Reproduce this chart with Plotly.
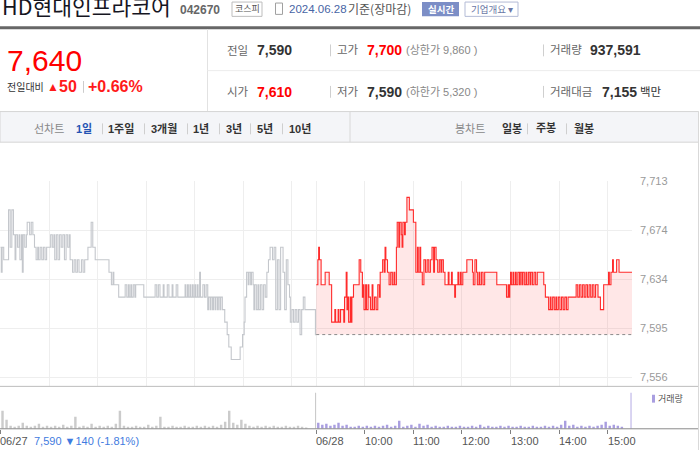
import plotly.graph_objects as go

# ---------------- data ----------------
prev_close = 7590
yticks = [7556, 7595.25, 7634.5, 7673.75, 7713]
ytick_text = ["7,556", "7,595", "7,634", "7,674", "7,713"]

# (minute from 06/27 09:00, price) step points ; 06/28 09:00 = minute 390
pts_0627 = [
    (0, 7660), (1, 7640), (2, 7660), (4, 7650), (10, 7690), (12, 7660), (14, 7690), (16, 7670),
    (18, 7650), (19, 7670), (21, 7660), (23, 7670), (24, 7650), (26, 7670), (27, 7640), (28, 7670),
    (30, 7660), (32, 7670), (33, 7680), (36, 7670), (38, 7680), (40, 7670), (42, 7660), (44, 7650),
    (46, 7660), (47, 7650), (49, 7660), (51, 7650), (53, 7660), (55, 7650), (57, 7660),
    (62, 7670), (64, 7660), (66, 7670), (67, 7650), (69, 7670), (71, 7650), (73, 7670), (75, 7660),
    (77, 7670), (79, 7650), (81, 7670), (83, 7660), (85, 7670), (86, 7650),
    (88, 7650), (89, 7640), (91, 7650), (93, 7640), (95, 7650), (97, 7640), (100, 7650), (102, 7640),
    (104, 7650), (108, 7660), (112, 7680), (114, 7660), (117, 7650),
    (134, 7640), (137, 7630), (139, 7640), (140, 7630),
    (146, 7620), (154, 7630), (156, 7620), (158, 7630), (159, 7620), (161, 7630), (162, 7620),
    (164, 7630), (166, 7620), (167, 7630), (177, 7620),
    (191, 7630), (193, 7620), (195, 7630), (197, 7620), (201, 7630), (202, 7620), (206, 7630),
    (208, 7620), (212, 7630), (213, 7620), (217, 7630), (219, 7620),
    (228, 7630), (229, 7620), (231, 7630), (232, 7620), (234, 7630), (235, 7620), (237, 7630),
    (238, 7620), (240, 7630), (241, 7620), (243, 7630), (244, 7620), (246, 7640), (247, 7620),
    (250, 7630), (252, 7620), (254, 7630),
    (256, 7610), (257, 7620), (259, 7610), (260, 7620), (262, 7610), (263, 7620), (265, 7610),
    (266, 7620), (268, 7610), (269, 7620), (271, 7610), (272, 7620), (274, 7610),
    (277, 7600), (280, 7590), (282, 7580), (285, 7570), (296, 7580), (299, 7590), (301, 7600),
    (302, 7620), (304, 7640), (306, 7630), (307, 7640), (309, 7630), (310, 7640), (312, 7630),
    (313, 7610), (314, 7630), (316, 7610), (318, 7630), (319, 7610), (321, 7630), (323, 7610),
    (325, 7630), (327, 7620), (329, 7640), (331, 7650), (333, 7660), (336, 7650), (338, 7660),
    (340, 7610), (342, 7650), (344, 7610), (346, 7660), (349, 7640), (351, 7610), (353, 7650),
    (355, 7630), (357, 7620), (358, 7600), (360, 7610), (362, 7600), (364, 7610), (366, 7600),
    (368, 7610), (370, 7590), (372, 7610), (374, 7620), (376, 7610), (389, 7590), (390, 7590),
]

pts_0628 = [
    (390, 7630), (392, 7650), (393, 7660), (394, 7650), (396, 7630), (401, 7640), (406, 7630),
    (409, 7600), (413, 7610), (414, 7600), (417, 7610), (418, 7600), (420, 7610), (424, 7600),
    (425, 7620), (427, 7640), (428, 7610), (429, 7620), (430, 7600), (432, 7620), (433, 7600),
    (434, 7620), (436, 7630), (443, 7650), (445, 7640), (447, 7620),
    (448, 7630), (449, 7610), (451, 7630), (452, 7610), (454, 7630), (455, 7620), (457, 7610),
    (459, 7630), (460, 7610), (462, 7620), (464, 7610), (466, 7630), (468, 7620),
    (469, 7640), (472, 7650), (474, 7640), (475, 7660), (476, 7650),
    (478, 7640), (480, 7630), (482, 7640), (484, 7630), (486, 7640), (487, 7630),
    (489, 7660), (490, 7680), (492, 7660), (493, 7680), (495, 7670), (496, 7660), (497, 7680),
    (499, 7670), (500, 7680), (502, 7700), (505, 7690), (510, 7680),
    (513, 7640), (515, 7660), (516, 7640), (518, 7660), (519, 7640), (521, 7630), (523, 7650),
    (525, 7640), (527, 7650), (529, 7640), (531, 7650), (533, 7660), (535, 7640), (536, 7660),
    (538, 7650), (540, 7640), (542, 7650), (544, 7640), (545, 7650), (547, 7640),
    (549, 7630), (553, 7640), (554, 7630), (557, 7640), (558, 7630), (561, 7620), (562, 7630),
    (565, 7640), (566, 7630), (568, 7640), (569, 7630), (571, 7640), (576, 7650), (583, 7640),
    (584, 7630), (586, 7650), (588, 7640), (589, 7630), (591, 7640),
    (592, 7630), (594, 7640), (596, 7630), (598, 7640), (613, 7630),
    (625, 7620), (627, 7630), (628, 7620), (629, 7630),
    (630, 7640), (631, 7630), (633, 7640), (634, 7630), (636, 7640), (637, 7630), (639, 7640),
    (641, 7630), (642, 7640), (644, 7630), (645, 7640), (647, 7630), (649, 7640), (650, 7630),
    (652, 7640), (654, 7630), (655, 7640), (657, 7630), (659, 7640), (661, 7630), (663, 7640),
    (671, 7630), (673, 7620),
    (677, 7610), (679, 7620), (680, 7610), (682, 7620), (684, 7610), (686, 7620), (687, 7610),
    (689, 7620), (691, 7610), (693, 7620), (695, 7610), (697, 7620), (699, 7610), (701, 7620),
    (711, 7630), (713, 7620), (715, 7630), (717, 7620), (719, 7630), (721, 7620), (723, 7630),
    (725, 7620), (727, 7630), (729, 7620), (731, 7630), (733, 7620), (735, 7630), (738, 7620),
    (741, 7610), (745, 7630), (751, 7640), (752, 7630), (754, 7640), (756, 7650), (757, 7640),
    (761, 7650), (764, 7640), (780, 7640),
]

# volume per 5-minute bucket (shares)
vol_0627 = [
    54000, 27000, 9000, 6000, 9000, 18000, 9000, 6000, 9000, 15000,
    6000, 9000, 6000, 9000, 6000, 12000, 6000, 9000, 36000, 6000,
    9000, 6000, 15000, 6000, 9000, 6000, 9000, 6000, 15000, 54000,
    9000, 6000, 6000, 9000, 6000, 6000, 12000, 6000, 9000, 36000,
    6000, 6000, 9000, 6000, 6000, 9000, 6000, 6000, 9000, 6000,
    9000, 6000, 9000, 6000, 12000, 21000, 54000, 18000, 12000, 27000,
    15000, 9000, 6000, 9000, 6000, 9000, 6000, 9000, 6000, 6000,
    9000, 6000, 6000, 9000, 6000, 4000, 0, 0,
]
vol_0628 = [
    18000, 12000, 15000, 9000, 12000, 18000, 9000, 12000, 6000, 6000,
    9000, 6000, 9000, 6000, 9000, 6000, 9000, 12000, 6000, 9000,
    24000, 6000, 9000, 12000, 6000, 15000, 9000, 12000, 6000, 9000,
    6000, 6000, 9000, 6000, 6000, 9000, 6000, 6000, 9000, 6000,
    12000, 6000, 9000, 6000, 6000, 9000, 6000, 9000, 6000, 6000,
    9000, 6000, 6000, 9000, 6000, 6000, 9000, 6000, 9000, 6000,
    12000, 24000, 9000, 12000, 6000, 9000, 6000, 9000, 6000, 9000,
    12000, 21000, 9000, 12000, 9000, 6000, 0, 0,
]
close_vol_0627 = 108000
close_vol_0628 = 108000

grid_minutes = [0, 60, 120, 180, 240, 300, 360, 390, 450, 510, 570, 630, 690, 750]
label_minutes = [390, 450, 510, 570, 630, 690, 750]
label_text = ["06/28", "10:00", "11:00", "12:00", "13:00", "14:00", "15:00"]

# ---------------- helpers ----------------
W, H = 700, 450
def X(px): return px / W
def Y(py): return 1 - py / H

KR = "Noto Sans CJK KR"
NUM = "Liberation Sans, Noto Sans CJK KR"

fig = go.Figure()

t1 = [p[0] for p in pts_0627]; v1 = [p[1] for p in pts_0627]
t2 = [p[0] for p in pts_0628]; v2 = [p[1] for p in pts_0628]

fig.add_trace(go.Scatter(x=t1, y=v1, mode="lines", hoverinfo="skip",
                         line=dict(color="#c4c7cc", width=1.1, shape="hv")))
fig.add_trace(go.Scatter(x=[390, 780], y=[prev_close, prev_close], mode="lines", hoverinfo="skip",
                         line=dict(color="#8a8a8a", width=1, dash="dot")))
fig.add_trace(go.Scatter(x=t2, y=v2, mode="lines", hoverinfo="skip",
                         line=dict(color="#ff2b2b", width=1.1, shape="hv"),
                         fill="tonexty", fillcolor="rgba(255,70,70,0.13)"))

xb1 = [5 * i + 2.5 for i in range(len(vol_0627))]
xb2 = [390 + 5 * i + 2.5 for i in range(len(vol_0628))]
fig.add_trace(go.Bar(x=xb1, y=vol_0627, width=3.0, marker=dict(color="#cbcbcb", line_width=0),
                     xaxis="x2", yaxis="y2", hoverinfo="skip"))
fig.add_trace(go.Bar(x=xb2, y=vol_0628, width=3.0, marker=dict(color="#a99ee0", line_width=0),
                     xaxis="x2", yaxis="y2", hoverinfo="skip"))
fig.add_trace(go.Bar(x=[389.2], y=[close_vol_0627], width=1.3, marker=dict(color="#c8c8c8", line_width=0),
                     xaxis="x2", yaxis="y2", hoverinfo="skip"))
fig.add_trace(go.Bar(x=[778.8], y=[close_vol_0628], width=1.3, marker=dict(color="#b7aee6", line_width=0),
                     xaxis="x2", yaxis="y2", hoverinfo="skip"))

shapes = []
def line(x0, y0, x1, y1, color, width=1, dash=None):
    d = dict(type="line", xref="paper", yref="paper", x0=X(x0), y0=Y(y0), x1=X(x1), y1=Y(y1),
             line=dict(color=color, width=width))
    if dash:
        d["line"]["dash"] = dash
    shapes.append(d)
def rect(x0, y0, x1, y1, fill, lc=None, lw=1):
    shapes.append(dict(type="rect", xref="paper", yref="paper", x0=X(x0), y0=Y(y0), x1=X(x1), y1=Y(y1),
                       fillcolor=fill, line=dict(color=lc if lc else fill, width=lw if lc else 0)))

# header decorations
rect(232, -4, 262, 10.5, "white", "#bdbdbd")          # 코스피 box
rect(275.5, -3, 282.5, 8.5, "white", "#a0a0a0")        # calendar icon
rect(422, -4, 459, 10.5, "#7c8ec6")                    # 실시간 badge
rect(465, -4, 518, 10.5, "white", "#b3bbd6")           # 기업개요 box
rect(0, 20.5, 700, 23.5, "#676767")                    # thick top line
line(207.5, 23.5, 207.5, 107, "#e2e2e2")
line(207.5, 65.5, 700, 65.5, "#ececec")
rect(0, 107, 698.5, 138, "#f4f5f8", "#d5d5d5")         # tab bar
line(350, 107, 350, 138, "#d8d8d8")
line(698.5, 107, 698.5, 450, "#d9d9d9")
for sx in [330.5, 543.5]:
    line(sx, 39, sx, 51, "#cfcfcf")
    line(sx, 81, sx, 93, "#cfcfcf")
line(83.5, 76, 83.5, 88, "#cccccc")
for sx in [102, 144, 187, 219, 250, 282, 527, 566]:
    line(sx + 0.5, 119, sx + 0.5, 130, "#cfcfcf")
# volume panel frame
line(0, 385.5, 698, 385.5, "#bcbcbc")
line(0, 428.5, 698, 428.5, "#8a8a8a")
rect(652, 394, 655, 402, "#a99ee0")

ann = []
def txt(x, y, s, size, color, bold=False, fam=KR, anchor="left"):
    ann.append(dict(xref="paper", yref="paper", x=X(x), y=Y(y), xanchor=anchor, yanchor="middle",
                    text=f"<b>{s}</b>" if bold else s, showarrow=False,
                    font=dict(size=size, color=color, family=fam)))

txt(0, -1, "HD현대인프라코어", 21.5, "#15151f")
txt(178, 4, "042670", 12, "#666666", True, NUM)
txt(247, 3, "코스피", 9, "#555555", anchor="center")
txt(287, 3, "2024.06.28", 11.5, "#4865a5", False, NUM)
txt(346, 3, "기준(장마감)", 12, "#555555")
txt(440.5, 3.5, "실시간", 9.5, "white", True, anchor="center")
txt(491.5, 3.5, "기업개요 ▾", 9.5, "#6b78a6", anchor="center")

txt(5, 55, "7,640", 30, "#ff0000", False, NUM)
txt(5, 82, "전일대비", 10, "#333333")
txt(45, 82, "▲", 12, "#ff1a1a", False, NUM)
txt(57, 82, "50", 16, "#ff1a1a", True, NUM)
txt(86, 82, "+0.66%", 16, "#ff1a1a", True, NUM)

for (yy, items) in [
    (45, [(225, "전일", "#666666", False, 11.5), (255, "7,590", "#333333", True, 14),
          (335, "고가", "#666666", False, 11.5), (365, "7,700", "#ff0000", True, 14),
          (404, "(상한가 9,860 )", "#888888", False, 11),
          (548, "거래량", "#666666", False, 11.5), (588, "937,591", "#333333", True, 14)]),
    (87, [(225, "시가", "#666666", False, 11.5), (255, "7,610", "#ff0000", True, 14),
          (335, "저가", "#666666", False, 11.5), (365, "7,590", "#333333", True, 14),
          (404, "(하한가 5,320 )", "#888888", False, 11),
          (548, "거래대금", "#666666", False, 11.5), (600, "7,155", "#333333", True, 14),
          (638, "백만", "#333333", False, 11.5)]),
]:
    for (xx, s, c, b, sz) in items:
        txt(xx, yy, s, sz, c, b, NUM)

txt(32, 124, "선차트", 11, "#888888")
txt(74, 124, "1일", 11, "#2453b3", True, NUM)
for (xx, s) in [(106, "1주일"), (149, "3개월"), (191, "1년"), (224, "3년"), (255, "5년"), (287, "10년")]:
    txt(xx, 124, s, 11, "#333333", True, NUM)
txt(453, 124, "봉차트", 11, "#888888")
for (xx, s) in [(500, "일봉"), (534, "주봉"), (572, "월봉")]:
    txt(xx, 124, s, 11, "#333333", True, NUM)

txt(655.5, 398, "거래량", 9, "#555555")
txt(-2, 441, "06/27", 11, "#555555", False, NUM)
txt(32, 441, "7,590 ▼140 (-1.81%)", 11, "#3f7be0", False, NUM)
for m, s in zip(label_minutes, label_text):
    ann.append(dict(xref="x2", yref="paper", x=m, y=Y(441), xanchor="left", yanchor="middle",
                    text=s, showarrow=False, xshift=-2,
                    font=dict(size=11, color="#555555", family=NUM)))

xr = [-0.6, 780]
fig.update_layout(
    width=W, height=H, margin=dict(l=0, r=0, t=0, b=0),
    paper_bgcolor="white", plot_bgcolor="white", showlegend=False, barmode="overlay",
    hovermode=False,
    xaxis=dict(domain=[0, 632 / W], range=xr, tickmode="array", tickvals=grid_minutes,
               showticklabels=False, showgrid=True, gridcolor="#eeeeee", gridwidth=1,
               zeroline=False, showline=False, ticks="", fixedrange=True),
    yaxis=dict(domain=[Y(385), Y(177)], range=[7548.9, 7713.4], side="right",
               tickmode="array", tickvals=yticks, ticktext=ytick_text, ticks="",
               tickfont=dict(size=11, color="#9a9a9a", family="Liberation Sans"),
               ticklabelstandoff=7,
               showgrid=True, gridcolor="#eeeeee", gridwidth=1, zeroline=False, showline=False,
               fixedrange=True),
    xaxis2=dict(domain=[0, 632 / W], range=xr, anchor="y2", tickmode="array",
                tickvals=label_minutes + [0], ticks="outside", ticklen=4, tickcolor="#808080",
                showticklabels=False, showgrid=False, zeroline=False, showline=False, fixedrange=True),
    yaxis2=dict(domain=[Y(428.5), Y(386)], range=[0, 126000], visible=False, fixedrange=True),
    shapes=shapes, annotations=ann,
)

fig.write_html("out.html", config={"displayModeBar": False, "staticPlot": True},
               post_script="document.body.style.margin='0px';document.body.style.overflow='hidden';")
